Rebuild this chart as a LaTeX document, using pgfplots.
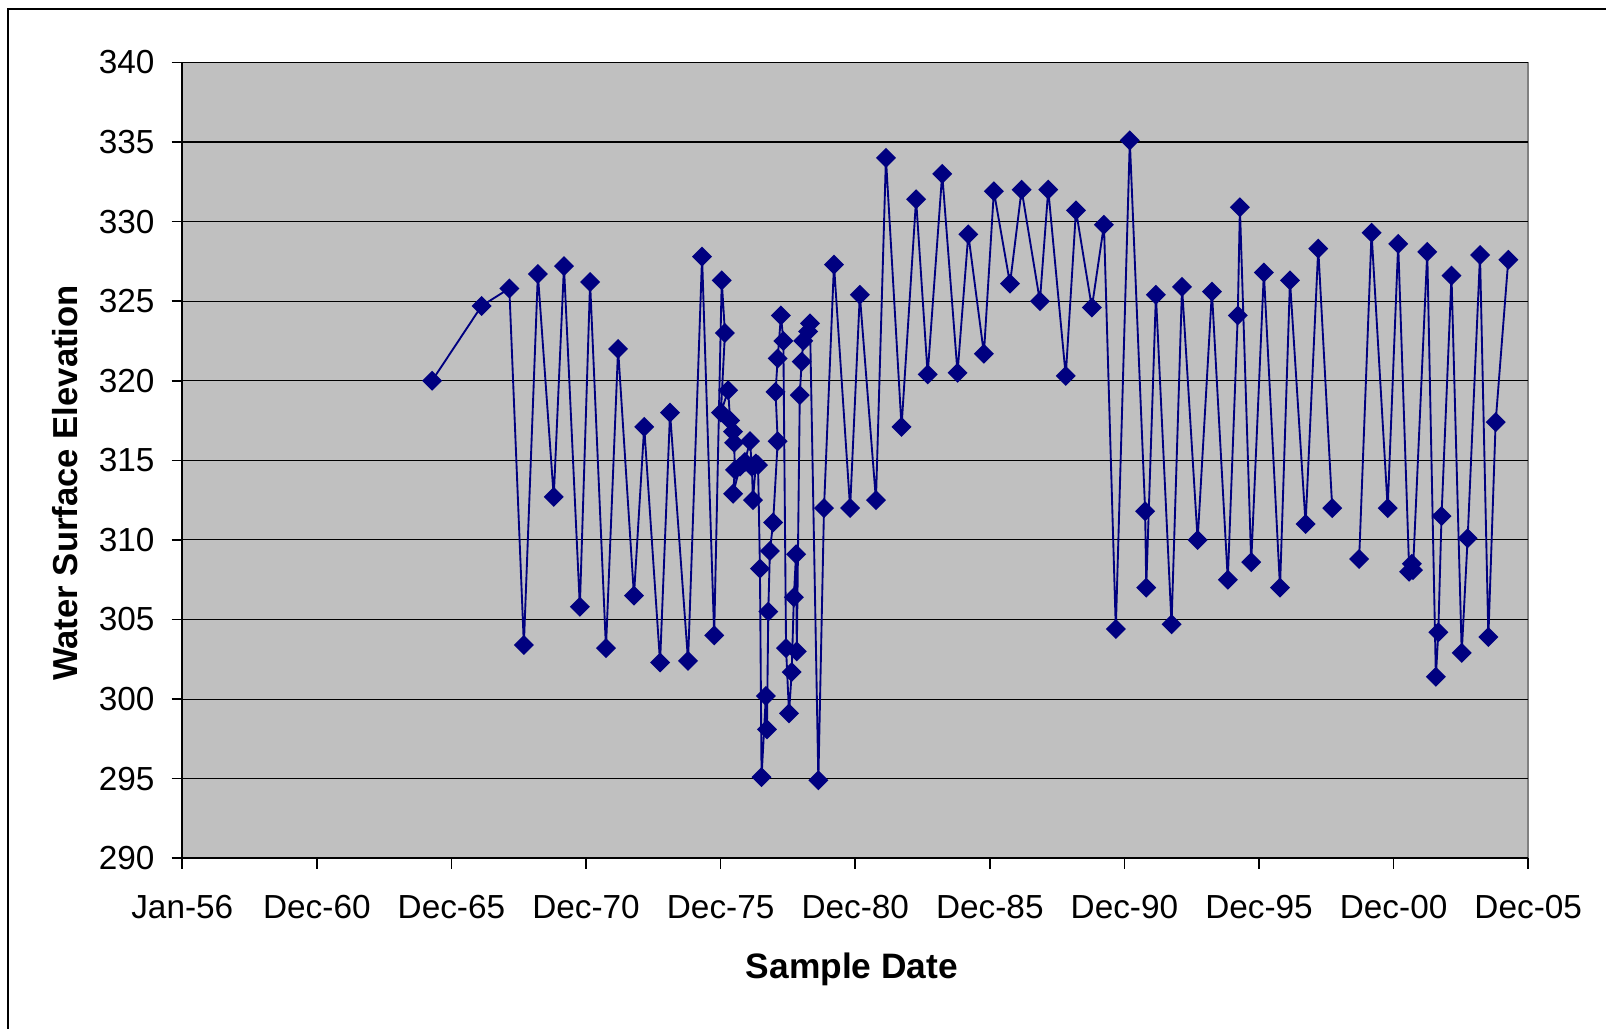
\documentclass[border=0pt]{standalone}
\usepackage{fontspec}
\setmainfont{Liberation Sans}
\usepackage{pgfplots}
\pgfplotsset{compat=1.18}
\definecolor{plotbg}{RGB}{192,192,192}
\definecolor{framegray}{RGB}{128,128,128}
\definecolor{navyline}{RGB}{0,0,128}

\begin{document}
\begin{tikzpicture}
\useasboundingbox (-136.7pt,-127.3pt) rectangle (1067.8pt,643.7pt);
% outer chart frame (only left and top edges fall inside the picture)
\draw[black, line width=1.5pt] (-130.5pt,-140pt) -- (-130.5pt,637pt) -- (1080pt,637pt);
\begin{axis}[
    at={(0,0)}, anchor=south west,
    scale only axis, width=1009.5pt, height=596.9pt,
    xmin=1956, xmax=2006, ymin=290, ymax=340,
    xtick={1956,1961,...,2006},
    xticklabels={Jan-56,Dec-60,Dec-65,Dec-70,Dec-75,Dec-80,Dec-85,Dec-90,Dec-95,Dec-00,Dec-05},
    ytick={290,295,...,340},
    ymajorgrids, grid style={black, line width=0.8pt},
    axis x line*=bottom, axis y line*=left,
    axis line style={black, line width=1.2pt, -},
    axis background/.style={fill=plotbg, draw=framegray, line width=1.2pt},
    tick align=outside, major tick length=8pt,
    tick style={black, line width=1.2pt},
    ticklabel style={font=\fontsize{25}{30}\selectfont, inner sep=0pt},
    /pgf/number format/assume math mode=true,
    xticklabel style={anchor=north, yshift=-19.8pt},
    yticklabel style={anchor=east, xshift=-12.7pt},
    unbounded coords=jump,
]
\addplot[navyline, line width=1.4pt, mark=square*,
    mark size=4.6pt, mark options={rotate=45, fill=navyline, draw=navyline}]
coordinates {
(1965.28,320.0) (1967.12,324.7) (1968.15,325.8) (1968.69,303.4)
(1969.21,326.7) (1969.80,312.7) (1970.18,327.2) (1970.77,305.8)
(1971.15,326.2) (1971.74,303.2) (1972.19,322.0) (1972.78,306.5)
(1973.16,317.1) (1973.75,302.3) (1974.12,318.0) (1974.79,302.4)
(1975.31,327.8) (1975.76,304.0) (1976.04,326.3) (1976.16,323.0)
(1976.01,318.0) (1976.28,319.4) (1976.35,317.5) (1976.46,316.8)
(1976.50,316.1) (1976.53,314.4) (1976.46,312.9) (1976.72,314.6)
(1976.90,314.9) (1977.09,316.2) (1977.16,314.6) (1977.20,312.5)
(1977.31,314.8) (1977.39,314.7) (1977.46,308.2) (1977.52,295.1)
(1977.68,300.2) (1977.72,298.1) (1977.77,305.5) (1977.83,309.3)
(1977.95,311.1) (1978.12,316.2) (1978.04,319.3) (1978.12,321.4)
(1978.24,324.1) (1978.33,322.5) (1978.43,303.2) (1978.54,299.1)
(1978.64,301.7) (1978.72,306.4) (1978.80,309.1) (1978.83,303.0)
(1978.94,319.1) (1979.01,321.2) (1979.07,322.5) (1979.25,323.1)
(1979.32,323.6) (1979.63,294.9) (1979.84,312.0) (1980.21,327.3)
(1980.81,312.0) (1981.17,325.4) (1981.77,312.5) (1982.14,334.0)
(1982.72,317.1) (1983.26,331.4) (1983.69,320.4) (1984.23,333.0)
(1984.80,320.5) (1985.20,329.2) (1985.78,321.7) (1986.15,331.9)
(1986.75,326.1) (1987.18,332.0) (1987.86,325.0) (1988.17,332.0)
(1988.82,320.3) (1989.20,330.7) (1989.79,324.6) (1990.24,329.8)
(1990.68,304.4) (1991.20,335.1) (1991.77,311.8) (1991.81,307.0)
(1992.17,325.4) (1992.75,304.7) (1993.14,325.9) (1993.72,310.0)
(1994.25,325.6) (1994.84,307.5) (1995.21,324.1) (1995.29,330.9)
(1995.71,308.6) (1996.18,326.8) (1996.78,307.0) (1997.15,326.3)
(1997.73,311.0) (1998.20,328.3) (1998.72,312.0)
(1999.20,nan)
(1999.72,308.8) (2000.18,329.3) (2000.78,312.0) (2001.17,328.6)
(2001.58,308.0) (2001.68,308.5) (2001.72,308.1) (2002.25,328.1)
(2002.57,301.4) (2002.66,304.2) (2002.78,311.5) (2003.15,326.6)
(2003.53,302.9) (2003.75,310.1) (2004.21,327.9) (2004.52,303.9)
(2004.79,317.4) (2005.26,327.6)
};
\end{axis}
\node[font=\bfseries\fontsize{26.5}{31}\selectfont] at (502.3pt,-83pt) {Sample Date};
\node[font=\bfseries\fontsize{26}{31}\selectfont, rotate=90] at (-88pt,281.5pt) {Water Surface Elevation};
\end{tikzpicture}
\end{document}
